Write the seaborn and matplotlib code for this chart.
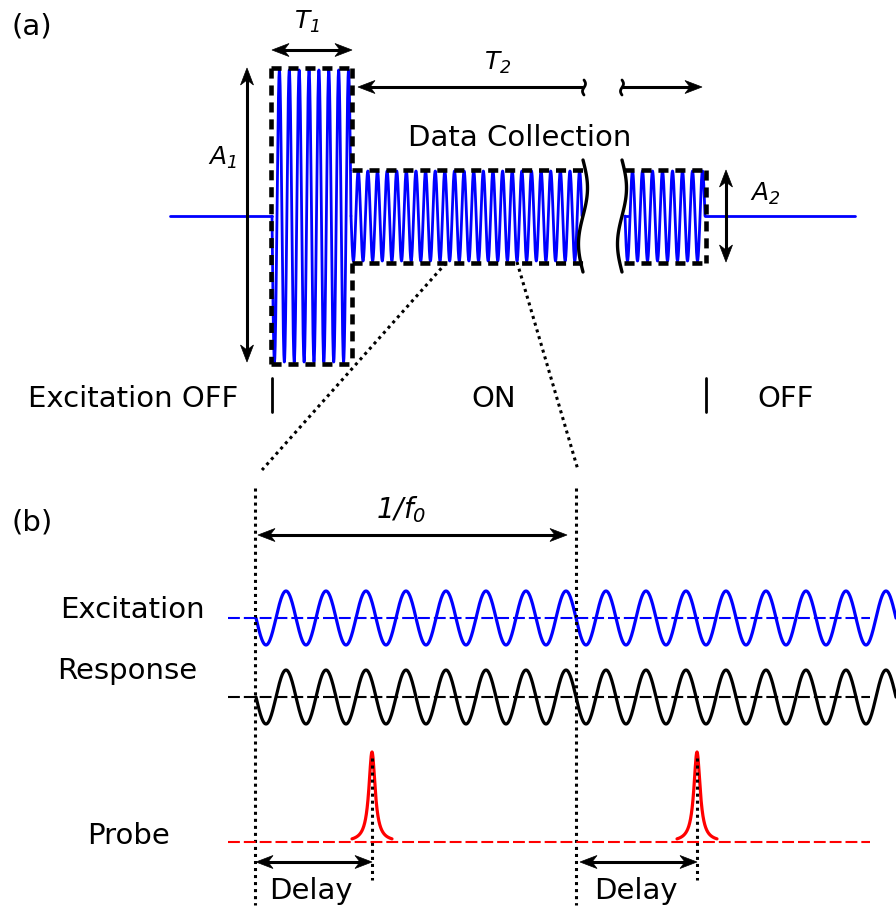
import numpy as np
import matplotlib
matplotlib.use("Agg")
import matplotlib.pyplot as plt
import seaborn as sns
from matplotlib.patches import Polygon

sns.set_theme(style="white")
plt.rcParams['font.family'] = ['DejaVu Sans']
plt.rcParams['mathtext.fontset'] = 'custom'
plt.rcParams['mathtext.rm'] = 'DejaVu Sans:italic'
plt.rcParams['mathtext.it'] = 'DejaVu Sans:italic'
plt.rcParams['mathtext.sf'] = 'DejaVu Sans:italic'
plt.rcParams['text.color'] = 'black'

# ---------------- data ----------------
# panel (a): excitation bursts
burst_start = [272, 351, 625]
burst_end = [351, 582, 705]
burst_amp = [146, 45, 45]
burst_cycles = [8, 24, 8]
a_baseline = 216
off_start = [170, 705]
off_end = [272, 855]

# panel (b): zoomed waveforms
b_start = 256
b_end = 896
b_period = 40
b_amp = 27
exc_base = 618
resp_base = 697
probe_base = 842
probe_peaks = [372, 697]
probe_height = 90
probe_width = 3.8
period_marks = [255, 576]

W, H = 896, 909
fig = plt.figure(figsize=(W / 100, H / 100), dpi=100)
ax = fig.add_axes([0, 0, 1, 1])

BLUE = "#0000ff"
RED = "#ff0000"


def draw_line(xs, ys, color, lw, ls="-"):
    sns.lineplot(x=np.asarray(xs, float), y=np.asarray(ys, float), ax=ax,
                 color=color, lw=lw, ls=ls, sort=False, estimator=None,
                 legend=False)


def head(tip, d, L=17, Wd=6.5, notch=5, color="black"):
    d = np.asarray(d, float)
    d = d / np.hypot(*d)
    n = np.array([-d[1], d[0]])
    tip = np.asarray(tip, float)
    pts = [tip, tip - d * L + n * Wd, tip - d * (L - notch), tip - d * L - n * Wd]
    ax.add_patch(Polygon(pts, closed=True, fc=color, ec=color, lw=0.5, zorder=6))


def arrow(p0, p1, start=True, end=True, lw=2.2, L=17, Wd=6.5):
    p0 = np.asarray(p0, float)
    p1 = np.asarray(p1, float)
    d = (p1 - p0) / np.hypot(*(p1 - p0))
    a = p0 + d * (L - 6) if start else p0
    b = p1 - d * (L - 6) if end else p1
    ax.plot([a[0], b[0]], [a[1], b[1]], color="black", lw=lw, zorder=5,
            solid_capstyle="butt")
    if start:
        head(p0, -d, L, Wd)
    if end:
        head(p1, d, L, Wd)


# ---------------- panel (a) ----------------
for x0, x1, amp, cyc in zip(burst_start, burst_end, burst_amp, burst_cycles):
    xs = np.linspace(x0, x1, 80 * cyc + 1)
    ys = a_baseline + amp * np.sin(2 * np.pi * cyc * (xs - x0) / (x1 - x0))
    draw_line(xs, ys, BLUE, 2.0)
for x0, x1 in zip(off_start, off_end):
    draw_line([x0, x1], [a_baseline, a_baseline], BLUE, 2.0)
draw_line([625, 628], [a_baseline, a_baseline], BLUE, 2.0)

# dashed boxes
box_kw = dict(color="black", lw=3.3, ls=(0, (2.2, 1.5)), zorder=4, dash_capstyle="butt")
top1 = a_baseline - burst_amp[0] - 2
bot1 = a_baseline + burst_amp[0] + 2
top2 = a_baseline - burst_amp[1] - 1
bot2 = a_baseline + burst_amp[1] + 2
ax.plot([271, 352], [top1, top1], **box_kw)
ax.plot([271, 352], [bot1, bot1], **box_kw)
ax.plot([271, 271], [top1, bot1], **box_kw)
ax.plot([352, 352], [top1, top2], **box_kw)
ax.plot([352, 352], [bot2, bot1], **box_kw)
ax.plot([352, 583], [top2, top2], **box_kw)
ax.plot([352, 583], [bot2, bot2], **box_kw)
ax.plot([624, 706], [top2, top2], **box_kw)
ax.plot([624, 706], [bot2, bot2], **box_kw)
ax.plot([706, 706], [top2, bot2], **box_kw)

# break marks
yy = np.linspace(160, 272, 100)
for xc in [583, 622]:
    ax.plot(xc + 4.5 * np.sin(2 * np.pi * (yy - 160) / 112), yy, color="black",
            lw=2.4, zorder=6)
ax.fill_between([587, 619], 150, 280, color="white", zorder=3)

# arrows (a)
arrow((247, 68), (247, 362))
arrow((272, 50), (352, 50))
arrow((726, 170), (726, 262))
arrow((358, 87), (583, 87), start=True, end=False)
arrow((622, 87), (702, 87), start=False, end=True)
ty = np.linspace(80, 95, 30)
for xc in [584, 622]:
    ax.plot(xc + 1.5 * np.sin(2 * np.pi * (ty - 80) / 15), ty, color="black", lw=2.0, zorder=6)

# state bars
for xc in [272, 706]:
    ax.plot([xc, xc], [378, 412], color="black", lw=2.0)

# zoom lines
dot_kw = dict(color="black", lw=2.2, ls=(0, (1, 1.3)), zorder=2)
ax.plot([446, 262], [263, 470], **dot_kw)
ax.plot([517, 578], [262, 470], **dot_kw)

# texts (a)
fs = 21
ax.text(12, 34, "(a)", fontsize=fs, ha="left", va="baseline")
ax.text(307, 22, r"$T_1$", fontsize=18, ha="center", va="center")
ax.text(498, 63, r"$T_2$", fontsize=18, ha="center", va="center")
ax.text(222, 158, r"$A_1$", fontsize=18, ha="center", va="center")
ax.text(765, 194, r"$A_2$", fontsize=18, ha="center", va="center")
ax.text(520, 146, "Data Collection", fontsize=fs, ha="center", va="baseline")
ax.text(28, 407, "Excitation OFF", fontsize=fs, ha="left", va="baseline")
ax.text(494, 407, "ON", fontsize=fs, ha="center", va="baseline")
ax.text(786, 407, "OFF", fontsize=fs, ha="center", va="baseline")

# ---------------- panel (b) ----------------
xs = np.linspace(b_start, b_end, 2000)
phase = 2 * np.pi * (xs - b_start) / b_period
draw_line(xs, exc_base + b_amp * np.sin(phase), BLUE, 2.3)
draw_line(xs, resp_base + b_amp * np.sin(phase), "black", 2.3)

base_kw = dict(lw=1.5, ls=(0, (5.7, 1.9)), zorder=3)
ax.plot([228, 870], [exc_base, exc_base], color=BLUE, **base_kw)
ax.plot([228, 870], [resp_base, resp_base], color="black", **base_kw)
ax.plot([228, 870], [probe_base, probe_base], color=RED, **base_kw)

for xp in probe_peaks:
    px = np.linspace(xp - 20, xp + 20, 400)
    py = probe_base - probe_height / (1 + ((px - xp) / probe_width) ** 2)
    draw_line(px, py, RED, 2.3)

for xm in period_marks:
    ax.plot([xm, xm], [488, 905], **dot_kw)
for xp in probe_peaks:
    ax.plot([xp, xp], [758, 880], **dot_kw)

arrow((258, 535), (567, 535))
arrow((256, 862), (372, 862))
arrow((580, 862), (697, 862))

ax.text(12, 531, "(b)", fontsize=fs, ha="left", va="baseline")
ax.text(401, 510, r"$1/f_0$", fontsize=20, ha="center", va="center")
ax.text(60, 618, "Excitation", fontsize=fs, ha="left", va="baseline")
ax.text(57, 679, "Response", fontsize=fs, ha="left", va="baseline")
ax.text(87, 844, "Probe", fontsize=fs, ha="left", va="baseline")
ax.text(269, 899, "Delay", fontsize=fs, ha="left", va="baseline")
ax.text(594, 899, "Delay", fontsize=fs, ha="left", va="baseline")

ax.set_xlim(0, W)
ax.set_ylim(H, 0)
ax.set_axis_off()
fig.savefig("out.png", dpi=100, facecolor="white")
